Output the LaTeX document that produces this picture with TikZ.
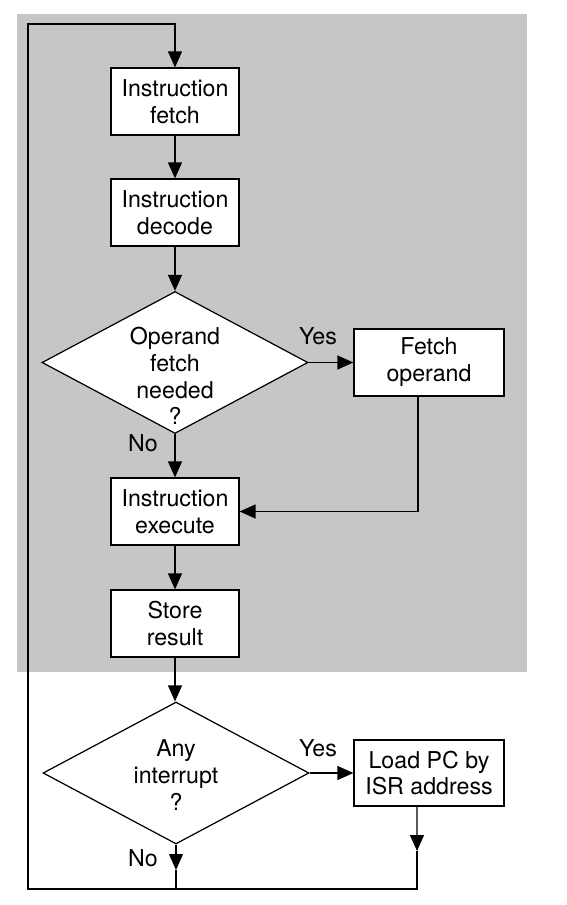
\documentclass[tikz,border=0pt]{standalone}
\usepackage{fontspec}
\setmainfont{TeX Gyre Heros}
\usepackage{tikz}
\usetikzlibrary{arrows.meta,backgrounds,positioning,shapes}
\definecolor{stagegray}{RGB}{198,198,198}
\tikzset{% 
  process box/.style={%
    draw,
    fill=white,
    line width=0.7pt,
    minimum width=2.56cm,
    minimum height=1.34cm,
    inner sep=0pt,
    align=center
  }
}
\tikzset{% 
  decision box/.style={%
    draw,
    fill=white,
    line width=0.7pt,
    diamond,
    minimum width=5.32cm,
    minimum height=2.84cm,
    inner sep=0pt
  }
}
\tikzset{% 
  flow/.style={%
    line width=0.7pt,
    -{Triangle[length=0.32cm,width=0.28cm]}
  }
}
\tikzset{% 
  plain flow/.style={%
    line width=0.7pt
  }
}

\begin{document}
\begin{tikzpicture}[x=0.02cm, y=-0.02cm, font=\fontsize{13.2}{15.3}\selectfont]
  \useasboundingbox (0, 0) rectangle (567, 905);
  \fill [stagegray] (17, 14) rectangle (527, 672);
  \node [process box] (fetch) at (175, 101.5) {Instruction\\fetch};
  \node [process box] (decode) at (175, 212.5) {Instruction\\decode};
  \node [decision box] (operand) at (175, 362.5) {};
  \node [align=center] (operandq) at (175, 376) {Operand\\fetch\\needed\\?};
  \node [process box, minimum width=3cm] (fetchop) at (429, 362.5) {Fetch\\operand};
  \node [process box] (execute) at (175, 511.5) {Instruction\\execute};
  \node [process box] (store) at (175, 623.5) {Store\\result};
  \node [decision box] (interrupt) at (176, 773) {};
  \node [align=center] (interruptq) at (176, 775) {Any\\interrupt\\?};
  \node [process box, minimum width=3cm, minimum height=1.32cm] (loadpc) at (429, 773) {Load PC by\\ISR address};
  \node (yes1) at (318, 336) {Yes};
  \node (no1) at (143, 443) {No};
  \node (yes2) at (318, 748) {Yes};
  \node (no2) at (143, 858) {No};
  \coordinate (topleft) at (28, 24);
  \coordinate (botleft) at (28, 889);
  \coordinate (botmid) at (176, 889);
  \coordinate (nomid) at (176, 870);
  \coordinate (isrmid) at (417, 851);
  \draw [flow] (fetch) -- (decode);
  \draw [flow] (decode) -- (operand.north);
  \draw [flow] (operand.east) -- (fetchop.west);
  \draw [flow] (operand.south) -- (execute.north);
  \draw [flow] ([xshift=-0.22cm]fetchop.south) |- (execute.east);
  \draw [flow] (execute) -- (store);
  \draw [flow] (store.south) -- (store.south |- interrupt.north);
  \draw [flow] (interrupt.east) -- (loadpc.west);
  \draw [flow] (interrupt.south) -- (nomid);
  \draw [plain flow] (nomid) -- (botmid);
  \draw [flow] ([xshift=-0.24cm]loadpc.south) -- (isrmid);
  \draw [flow] (isrmid) |- (botleft) -- (topleft) -| (fetch.north);
\end{tikzpicture}
\end{document}
